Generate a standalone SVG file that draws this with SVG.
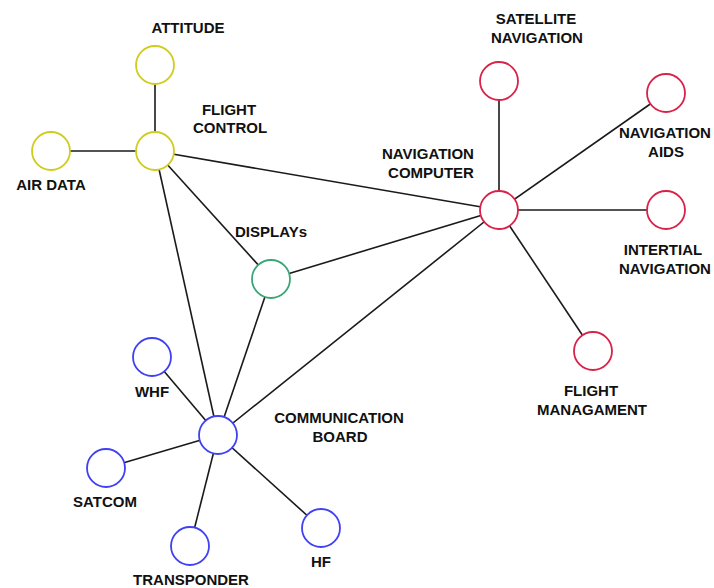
<svg xmlns="http://www.w3.org/2000/svg" width="714" height="588" viewBox="0 0 714 588">
  <style>
    .bg { fill: #ffffff; }
    .edge { stroke: #1a1a1a; stroke-width: 1.6; fill: none; }
    .node { fill: #ffffff; stroke-width: 1.8; }
    .fc { stroke: #d0cc1c; }
    .nav { stroke: #d82249; }
    .disp { stroke: #3aa676; }
    .com { stroke: #4040f4; }
    .label { font-family: "Liberation Sans", Arial, sans-serif; font-size: 15px; font-weight: bold; fill: #111111; text-anchor: middle; }
  </style>
  <rect class="bg" x="0" y="0" width="714" height="588"/>

  <!-- connectors -->
  <g id="connectors">
    <line class="edge" x1="155" y1="65" x2="155" y2="151"/>
    <line class="edge" x1="51" y1="151" x2="155" y2="151"/>
    <line class="edge" x1="155" y1="151" x2="499" y2="210"/>
    <line class="edge" x1="155" y1="151" x2="271" y2="279"/>
    <line class="edge" x1="155" y1="151" x2="218" y2="435"/>
    <line class="edge" x1="271" y1="279" x2="499" y2="210"/>
    <line class="edge" x1="271" y1="279" x2="218" y2="435"/>
    <line class="edge" x1="218" y1="435" x2="499" y2="210"/>
    <line class="edge" x1="499" y1="81" x2="499" y2="210"/>
    <line class="edge" x1="666" y1="93" x2="499" y2="210"/>
    <line class="edge" x1="666" y1="210" x2="499" y2="210"/>
    <line class="edge" x1="593" y1="351" x2="499" y2="210"/>
    <line class="edge" x1="152" y1="357" x2="218" y2="435"/>
    <line class="edge" x1="106" y1="468" x2="218" y2="435"/>
    <line class="edge" x1="190" y1="546" x2="218" y2="435"/>
    <line class="edge" x1="321" y1="528" x2="218" y2="435"/>
  </g>

  <!-- flight control cluster -->
  <g id="attitude">
    <circle class="node fc" cx="155" cy="65" r="19"/>
    <text class="label" x="188" y="33">ATTITUDE</text>
  </g>
  <g id="flight-control">
    <circle class="node fc" cx="155" cy="151" r="19"/>
    <text class="label" x="229" y="115">FLIGHT</text>
    <text class="label" x="230" y="133">CONTROL</text>
  </g>
  <g id="air-data">
    <circle class="node fc" cx="51" cy="151" r="19"/>
    <text class="label" x="51" y="190">AIR DATA</text>
  </g>

  <!-- displays -->
  <g id="displays">
    <circle class="node disp" cx="271" cy="279" r="19"/>
    <text class="label" x="271" y="237">DISPLAYs</text>
  </g>

  <!-- navigation cluster -->
  <g id="navigation-computer">
    <circle class="node nav" cx="499" cy="210" r="19"/>
    <text class="label" x="428" y="159">NAVIGATION</text>
    <text class="label" x="431" y="178">COMPUTER</text>
  </g>
  <g id="satellite-navigation">
    <circle class="node nav" cx="499" cy="81" r="19"/>
    <text class="label" x="536" y="24">SATELLITE</text>
    <text class="label" x="537" y="43">NAVIGATION</text>
  </g>
  <g id="navigation-aids">
    <circle class="node nav" cx="666" cy="93" r="19"/>
    <text class="label" x="665" y="138">NAVIGATION</text>
    <text class="label" x="666" y="157">AIDS</text>
  </g>
  <g id="inertial-navigation">
    <circle class="node nav" cx="666" cy="210" r="19"/>
    <text class="label" x="663" y="255">INTERTIAL</text>
    <text class="label" x="665" y="274">NAVIGATION</text>
  </g>
  <g id="flight-managament">
    <circle class="node nav" cx="593" cy="351" r="19"/>
    <text class="label" x="591" y="396">FLIGHT</text>
    <text class="label" x="592" y="415">MANAGAMENT</text>
  </g>

  <!-- communication cluster -->
  <g id="communication-board">
    <circle class="node com" cx="218" cy="435" r="19"/>
    <text class="label" x="339" y="423">COMMUNICATION</text>
    <text class="label" x="340" y="442">BOARD</text>
  </g>
  <g id="whf">
    <circle class="node com" cx="152" cy="357" r="19"/>
    <text class="label" x="152" y="397">WHF</text>
  </g>
  <g id="satcom">
    <circle class="node com" cx="106" cy="468" r="19"/>
    <text class="label" x="105" y="507">SATCOM</text>
  </g>
  <g id="transponder">
    <circle class="node com" cx="190" cy="546" r="19"/>
    <text class="label" x="191" y="585">TRANSPONDER</text>
  </g>
  <g id="hf">
    <circle class="node com" cx="321" cy="528" r="19"/>
    <text class="label" x="321" y="567">HF</text>
  </g>
</svg>
